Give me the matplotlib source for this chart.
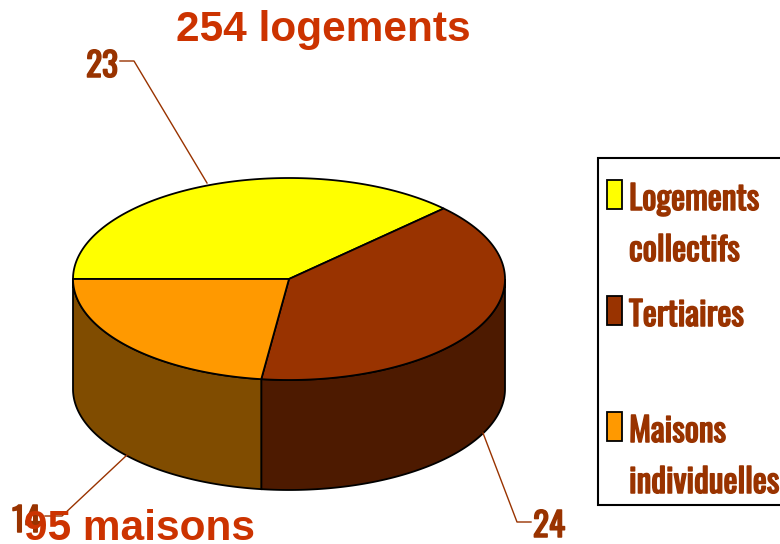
import numpy as np
from matplotlib import pyplot as plt
from matplotlib import patheffects
from matplotlib.patches import Polygon, Rectangle

categories = ['Logements\ncollectifs', 'Tertiaires', 'Maisons\nindividuelles']
values = [23, 24, 14]
top_colors = ['#ffff00', '#993300', '#ff9900']
side_colors = ['#808000', '#4d1a00', '#804c00']

cx, cy, rx, ry, depth = 289, 279, 216, 101, 110
narrow = ['Oswald', 'Liberation Sans']
# Oswald only comes in one weight here, thicken it with a stroke
heavy = [patheffects.withStroke(linewidth=1.1, foreground='#993300')]


def edge(a1, a2, dy=0):
	t = np.radians(np.linspace(a1, a2, 120))
	return np.column_stack((cx + rx*np.cos(t), cy - ry*np.sin(t) + dy))


fig = plt.figure(figsize=(7.8, 5.44), dpi=100)
ax = fig.add_axes([0, 0, 1, 1])
ax.set_xlim(0, 780)
ax.set_ylim(544, 0)
ax.axis('off')

# slices run clockwise from the left side of the ellipse
angles = 180 - np.cumsum([0] + values) * 360.0 / sum(values)

# walls first, only the part below the horizontal axis is visible
for i in range(len(values)):
	a1 = min(angles[i], 0)
	a2 = max(angles[i+1], -180)
	if a1 <= a2:
		continue
	pts = np.vstack((edge(a1, a2), edge(a2, a1, depth)))
	ax.add_patch(Polygon(pts, closed=True, fc=side_colors[i], ec='black', lw=1.3))

for i in range(len(values)):
	pts = np.vstack(([[cx, cy]], edge(angles[i], angles[i+1])))
	ax.add_patch(Polygon(pts, closed=True, fc=top_colors[i], ec='black', lw=1.3))

# leader lines
ax.plot([120, 134, 207], [61, 61, 183], color='#993300', lw=1)
ax.plot([483, 517, 531], [433, 522, 522], color='#993300', lw=1)
ax.plot([127, 62, 45], [455, 516, 516], color='#993300', lw=1)

lab = dict(color='#993300', fontsize=24, family=narrow, va='baseline', path_effects=heavy)
ax.text(118, 77, str(values[0]), ha='right', **lab)
ax.text(533, 537, str(values[1]), ha='left', **lab)
ax.text(12, 532, str(values[2]), ha='left', **lab)

ax.text(323.5, 41, '254 logements', color='#cc3300', fontsize=30.5, fontweight='bold',
	family='Liberation Sans', ha='center', va='baseline')
ax.text(140, 540, '95 maisons', color='#cc3300', fontsize=30.5, fontweight='bold',
	family='Liberation Sans', ha='center', va='baseline')

# legend box
ax.add_patch(Rectangle((598, 158), 190, 347, fc='white', ec='black', lw=1.5))
key_y = [180, 296, 412]
for i in range(len(categories)):
	ax.add_patch(Rectangle((607, key_y[i]), 15, 29, fc=top_colors[i], ec='black', lw=1.3))
	for j, line in enumerate(categories[i].split('\n')):
		ax.text(629, key_y[i] + 30 + 51*j, line, color='#993300', fontsize=24,
			family=narrow, ha='left', va='baseline', path_effects=heavy)

fig.savefig('out.png', dpi=100)
